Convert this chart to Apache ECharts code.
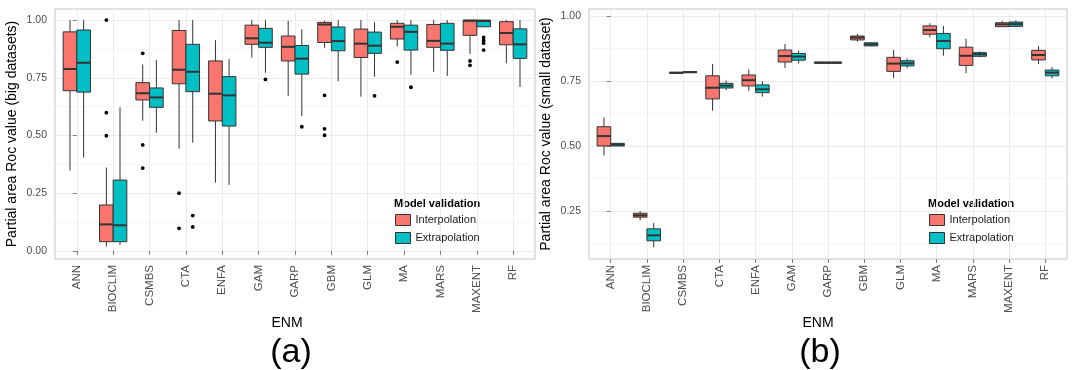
<!DOCTYPE html>
<html>
<head>
<meta charset="utf-8">
<script src="https://cdn.jsdelivr.net/npm/echarts@6/dist/echarts.min.js"></script>
<style>
  html, body { margin: 0; padding: 0; background: #fff; }
  #main { width: 1072px; height: 370px; }
</style>
</head>
<body>
<div id="main"></div>
<script>
// ENM methods on the x axis
var enm = ['ANN', 'BIOCLIM', 'CSMBS', 'CTA', 'ENFA', 'GAM', 'GARP', 'GBM', 'GLM', 'MA', 'MARS', 'MAXENT', 'RF'];
var yTicks = [0, 0.25, 0.5, 0.75, 1];
var yMinor = [0.125, 0.375, 0.625, 0.875];

// (a) big datasets: [whisker low, Q1, median, Q3, whisker high]
var bigInterp = [
  [0.348, 0.694, 0.788, 0.949, 1.0],
  [0.019, 0.040, 0.115, 0.199, 0.361],
  [0.564, 0.654, 0.683, 0.729, 0.808],
  [0.443, 0.724, 0.785, 0.955, 1.0],
  [0.296, 0.563, 0.681, 0.823, 0.913],
  [0.837, 0.895, 0.921, 0.978, 1.0],
  [0.672, 0.823, 0.884, 0.931, 0.997],
  [0.880, 0.903, 0.981, 0.990, 0.997],
  [0.668, 0.838, 0.898, 0.961, 1.0],
  [0.886, 0.918, 0.971, 0.986, 1.0],
  [0.776, 0.882, 0.910, 0.981, 1.0],
  [0.853, 0.934, 0.997, 1.0, 1.0],
  [0.813, 0.893, 0.944, 0.993, 1.0]
];
var bigExtrap = [
  [0.404, 0.688, 0.815, 0.957, 1.0],
  [0.026, 0.040, 0.111, 0.307, 0.622],
  [0.512, 0.622, 0.665, 0.706, 0.827],
  [0.469, 0.690, 0.776, 0.895, 1.0],
  [0.286, 0.541, 0.674, 0.755, 0.831],
  [0.772, 0.882, 0.902, 0.964, 1.0],
  [0.584, 0.766, 0.833, 0.890, 0.960],
  [0.735, 0.867, 0.909, 0.970, 1.0],
  [0.755, 0.856, 0.889, 0.948, 0.991],
  [0.763, 0.870, 0.949, 0.978, 1.0],
  [0.758, 0.869, 0.898, 0.986, 1.0],
  [0.971, 0.971, 0.996, 1.0, 1.0],
  [0.710, 0.834, 0.895, 0.962, 1.0]
];
var bigInterpOut = [
  ['BIOCLIM', 1.0], ['BIOCLIM', 0.599], ['BIOCLIM', 0.499],
  ['CSMBS', 0.856], ['CSMBS', 0.459], ['CSMBS', 0.359],
  ['CTA', 0.250], ['CTA', 0.098],
  ['GBM', 0.674], ['GBM', 0.529], ['GBM', 0.501],
  ['MA', 0.818],
  ['MAXENT', 0.823], ['MAXENT', 0.804]
];
var bigExtrapOut = [
  ['CTA', 0.153], ['CTA', 0.104],
  ['GAM', 0.743],
  ['GARP', 0.538],
  ['GLM', 0.672],
  ['MA', 0.709],
  ['MAXENT', 0.925], ['MAXENT', 0.912], ['MAXENT', 0.900], ['MAXENT', 0.870]
];

// (b) small dataset
var smallInterp = [
  [0.464, 0.500, 0.538, 0.574, 0.610],
  [0.213, 0.226, 0.233, 0.241, 0.249],
  [0.780, 0.781, 0.782, 0.783, 0.784],
  [0.636, 0.681, 0.724, 0.770, 0.815],
  [0.712, 0.731, 0.753, 0.773, 0.795],
  [0.800, 0.823, 0.846, 0.869, 0.892],
  [0.818, 0.819, 0.821, 0.822, 0.823],
  [0.901, 0.908, 0.917, 0.923, 0.931],
  [0.760, 0.787, 0.817, 0.841, 0.869],
  [0.918, 0.930, 0.946, 0.962, 0.972],
  [0.780, 0.810, 0.847, 0.880, 0.913],
  [0.957, 0.959, 0.968, 0.974, 0.982],
  [0.815, 0.831, 0.850, 0.868, 0.885]
];
var smallExtrap = [
  [0.498, 0.500, 0.505, 0.510, 0.512],
  [0.110, 0.135, 0.156, 0.181, 0.203],
  [0.782, 0.783, 0.784, 0.786, 0.787],
  [0.715, 0.723, 0.732, 0.741, 0.751],
  [0.690, 0.705, 0.718, 0.735, 0.749],
  [0.818, 0.830, 0.844, 0.856, 0.867],
  [0.818, 0.819, 0.821, 0.822, 0.823],
  [0.883, 0.885, 0.891, 0.897, 0.899],
  [0.799, 0.808, 0.818, 0.828, 0.836],
  [0.847, 0.874, 0.904, 0.933, 0.962],
  [0.841, 0.845, 0.853, 0.859, 0.864],
  [0.957, 0.960, 0.969, 0.977, 0.983],
  [0.760, 0.770, 0.782, 0.792, 0.803]
];

var FONT = '"Liberation Sans", Arial, sans-serif';
var interpColor = '#F8766D';
var extrapColor = '#00BFC4';
var edge = '#333333';

function boxRows(stats) {
  return stats.map(function (s, i) { return [i].concat(s); });
}
function outRows(list) {
  return list.map(function (o) { return [enm.indexOf(o[0]), o[1]]; });
}

// ggplot style dodged box: vertical whiskers, box, thick median
function renderBox(side) {
  return function (params, api) {
    var cat = api.value(0);
    var unit = api.size([1, 0])[0];
    var w = unit * 0.375;
    var lo = api.coord([cat, api.value(1)]);
    var q1 = api.coord([cat, api.value(2)]);
    var md = api.coord([cat, api.value(3)]);
    var q3 = api.coord([cat, api.value(4)]);
    var hi = api.coord([cat, api.value(5)]);
    var cx = lo[0] + side * w / 2;
    var ln = { stroke: edge, lineWidth: 1 };
    return {
      type: 'group',
      children: [
        { type: 'line', shape: { x1: cx, y1: hi[1], x2: cx, y2: q3[1] }, style: ln },
        { type: 'line', shape: { x1: cx, y1: q1[1], x2: cx, y2: lo[1] }, style: ln },
        { type: 'rect', shape: { x: cx - w / 2, y: q3[1], width: w, height: Math.max(q1[1] - q3[1], 1) },
          style: { fill: api.visual('color'), stroke: edge, lineWidth: 1 } },
        { type: 'line', shape: { x1: cx - w / 2, y1: md[1], x2: cx + w / 2, y2: md[1] },
          style: { stroke: edge, lineWidth: 2 } }
      ]
    };
  };
}
function renderOut(side) {
  return function (params, api) {
    var unit = api.size([1, 0])[0];
    var p = api.coord([api.value(0), api.value(1)]);
    return { type: 'circle', shape: { cx: p[0] + side * unit * 0.1875, cy: p[1], r: 1.9 }, style: { fill: '#000' } };
  };
}

function boxSeries(name, idx, side, stats, color) {
  return {
    name: name, type: 'custom', xAxisIndex: idx, yAxisIndex: idx * 2,
    renderItem: renderBox(side), itemStyle: { color: color },
    encode: { x: 0, y: [1, 2, 3, 4, 5] }, data: boxRows(stats), z: 3
  };
}
function outSeries(name, idx, side, list, color) {
  return {
    name: name, type: 'custom', xAxisIndex: idx, yAxisIndex: idx * 2,
    renderItem: renderOut(side), itemStyle: { color: color },
    encode: { x: 0, y: 1 }, data: outRows(list), z: 4
  };
}

var catIdx = enm.map(function (n, i) { return i; });

function xAxisFor(gridIndex) {
  return {
    type: 'value', gridIndex: gridIndex, min: -0.6, max: 12.6,
    axisLine: { show: false },
    axisTick: { show: true, length: 4, customValues: catIdx, lineStyle: { color: '#7f7f7f' } },
    axisLabel: {
      customValues: catIdx, rotate: 90, margin: 6, fontSize: 11.5, color: '#4d4d4d', fontFamily: FONT,
      formatter: function (v) { return enm[Math.round(v)]; }
    },
    splitLine: { show: true, lineStyle: { color: '#ebebeb', width: 1 } }
  };
}
function yAxesFor(gridIndex, min, max, title) {
  return [{
    type: 'value', gridIndex: gridIndex, min: min, max: max,
    name: title, nameLocation: 'middle', nameGap: 36,
    nameTextStyle: { fontSize: 14, color: '#000', fontFamily: FONT },
    axisLine: { show: false },
    axisTick: { show: true, length: 4, customValues: yTicks, lineStyle: { color: '#7f7f7f' } },
    axisLabel: {
      customValues: yTicks, margin: 8, fontSize: 10.5, color: '#4d4d4d', fontFamily: FONT,
      formatter: function (v) { return v.toFixed(2); }
    },
    splitLine: { show: true, lineStyle: { color: '#ebebeb', width: 1 } }
  }, {
    type: 'value', gridIndex: gridIndex, min: min, max: max, position: 'left',
    axisLine: { show: false },
    axisTick: { show: false, customValues: yMinor },
    axisLabel: { show: false, customValues: yMinor },
    splitLine: { show: true, lineStyle: { color: '#f7f7f7', width: 1 } }
  }];
}

function legendFor(left) {
  return {
    left: left, top: 214, orient: 'vertical', padding: 0,
    itemWidth: 15, itemHeight: 11, itemGap: 6,
    textStyle: { fontSize: 11, color: '#1a1a1a', fontFamily: FONT },
    data: [
      { name: 'Interpolation', icon: 'rect', itemStyle: { color: interpColor, borderColor: edge, borderWidth: 1 } },
      { name: 'Extrapolation', icon: 'rect', itemStyle: { color: extrapColor, borderColor: edge, borderWidth: 1 } }
    ]
  };
}

var chart = echarts.init(document.getElementById('main'), null, { renderer: 'canvas' });
chart.setOption({
  animation: false,
  backgroundColor: '#fff',
  textStyle: { fontFamily: FONT },
  grid: [
    { left: 55, right: 537, top: 9, bottom: 111, show: true, borderColor: '#c4c4c4', borderWidth: 1, backgroundColor: '#fff' },
    { left: 589, right: 5, top: 9, bottom: 111, show: true, borderColor: '#c4c4c4', borderWidth: 1, backgroundColor: '#fff' }
  ],
  xAxis: [xAxisFor(0), xAxisFor(1)],
  yAxis: yAxesFor(0, -0.035, 1.048, 'Partial area Roc value (big datasets)')
    .concat(yAxesFor(1, 0.065, 1.027, 'Partial area Roc value (small dataset)')),
  legend: [legendFor(395), legendFor(929)],
  graphic: [
    { type: 'text', left: 394, top: 198, style: { text: 'Model validation', font: 'bold 11px ' + FONT, fill: '#000' } },
    { type: 'text', left: 928, top: 198, style: { text: 'Model validation', font: 'bold 11px ' + FONT, fill: '#000' } },
    { type: 'text', x: 287, y: 323, style: { text: 'ENM', font: '14px ' + FONT, fill: '#000', align: 'center', verticalAlign: 'middle' } },
    { type: 'text', x: 818, y: 323, style: { text: 'ENM', font: '14px ' + FONT, fill: '#000', align: 'center', verticalAlign: 'middle' } },
    { type: 'text', x: 291, y: 353, style: { text: '(a)', font: '34px ' + FONT, fill: '#000', align: 'center', verticalAlign: 'middle' } },
    { type: 'text', x: 820, y: 353, style: { text: '(b)', font: '34px ' + FONT, fill: '#000', align: 'center', verticalAlign: 'middle' } }
  ],
  series: [
    boxSeries('Interpolation', 0, -1, bigInterp, interpColor),
    boxSeries('Extrapolation', 0, 1, bigExtrap, extrapColor),
    outSeries('Interpolation', 0, -1, bigInterpOut, interpColor),
    outSeries('Extrapolation', 0, 1, bigExtrapOut, extrapColor),
    boxSeries('Interpolation', 1, -1, smallInterp, interpColor),
    boxSeries('Extrapolation', 1, 1, smallExtrap, extrapColor)
  ]
});
</script>
</body>
</html>
